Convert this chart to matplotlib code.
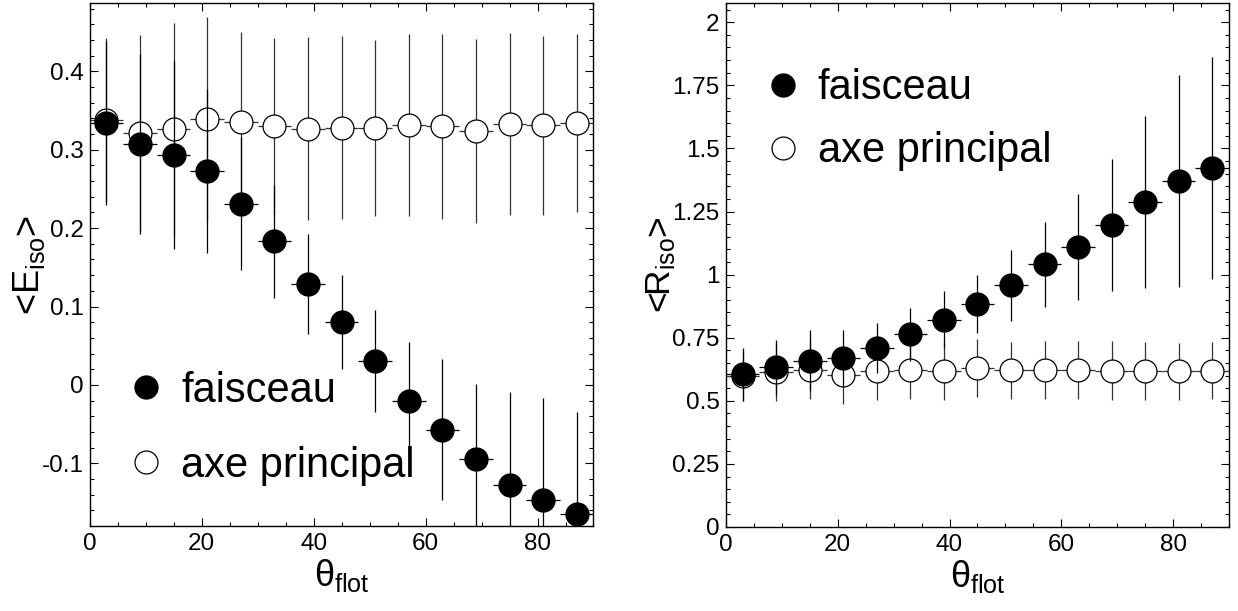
import numpy as np
import matplotlib
matplotlib.use('Agg')
import matplotlib.pyplot as plt
from matplotlib.lines import Line2D
from matplotlib.ticker import MultipleLocator

plt.rcParams['font.family'] = ['Liberation Sans', 'DejaVu Sans']
plt.rcParams['mathtext.fontset'] = 'custom'
plt.rcParams['mathtext.rm'] = 'Liberation Sans'
plt.rcParams['mathtext.it'] = 'Liberation Sans'

# theta_flot bins (centres, half width 3 deg)
theta = [3, 9, 15, 21, 27, 33, 39, 45, 51, 57, 63, 69, 75, 81, 87]
theta_err = 3

# <E_iso>
e_faisceau = [0.334, 0.307, 0.293, 0.273, 0.231, 0.183, 0.129, 0.080, 0.031,
              -0.020, -0.057, -0.094, -0.127, -0.147, -0.164]
e_faisceau_err = [0.105, 0.115, 0.12, 0.105, 0.085, 0.072, 0.064, 0.060, 0.065,
                  0.075, 0.090, 0.095, 0.118, 0.130, 0.130]
e_axe = [0.338, 0.321, 0.326, 0.339, 0.335, 0.330, 0.327, 0.328, 0.328,
         0.331, 0.330, 0.324, 0.333, 0.331, 0.334]
e_axe_err = [0.105, 0.125, 0.135, 0.13, 0.115, 0.112, 0.117, 0.117, 0.112,
             0.116, 0.118, 0.117, 0.116, 0.114, 0.114]

# <R_iso>
r_faisceau = [0.605, 0.632, 0.659, 0.670, 0.709, 0.763, 0.822, 0.883, 0.958,
              1.041, 1.110, 1.197, 1.288, 1.370, 1.424]
r_faisceau_err = [0.105, 0.11, 0.12, 0.11, 0.10, 0.105, 0.112, 0.114, 0.14,
                  0.168, 0.21, 0.26, 0.34, 0.42, 0.44]
r_axe = [0.598, 0.615, 0.624, 0.602, 0.618, 0.621, 0.618, 0.629, 0.621,
         0.621, 0.621, 0.620, 0.618, 0.617, 0.620]
r_axe_err = [0.10, 0.115, 0.115, 0.115, 0.115, 0.115, 0.115, 0.115, 0.113,
             0.115, 0.115, 0.115, 0.115, 0.113, 0.113]

fig = plt.figure(figsize=(12.38, 6.11), dpi=100)
ax1 = fig.add_axes([0.0724, 0.139, 0.407, 0.856])
ax2 = fig.add_axes([0.5864, 0.1375, 0.4063, 0.8575])

ms = 16.5


def draw(ax, y_axe, err_axe, y_fais, err_fais):
    ax.errorbar(theta, y_axe, xerr=theta_err, yerr=err_axe, fmt='o', ms=ms,
                mfc='white', mec='black', mew=0.9, ecolor='#333333',
                elinewidth=0.9, capsize=0, zorder=2)
    ax.errorbar(theta, y_fais, xerr=theta_err, yerr=err_fais, fmt='o', ms=ms,
                mfc='black', mec='black', ecolor='black',
                elinewidth=0.9, capsize=0, zorder=3)
    ax.set_xlim(0, 90)
    ax.xaxis.set_major_locator(MultipleLocator(20))
    ax.xaxis.set_minor_locator(MultipleLocator(5))
    ax.tick_params(which='both', direction='in', top=True, right=True,
                   labelsize=17.5, width=0.8)
    ax.tick_params(which='major', length=6, pad=5)
    ax.tick_params(axis='y', which='major', pad=4.5)
    ax.tick_params(which='minor', length=3)
    for s in ax.spines.values():
        s.set_linewidth(1.0)
    ax.set_xlabel(r'$\theta_{\rm flot}$', fontsize=26)
    ax.xaxis.set_label_coords(0.5, -0.06)


def legend(ax, x, y, spacing):
    handles = [Line2D([], [], ls='none', marker='o', ms=ms, mfc='black', mec='black'),
               Line2D([], [], ls='none', marker='o', ms=ms, mfc='white', mec='black', mew=0.9)]
    ax.legend(handles, ['faisceau', 'axe principal'], loc='center left',
              bbox_to_anchor=(x, y), frameon=False, fontsize=30,
              handlelength=0.6, handletextpad=0.54, labelspacing=spacing,
              borderpad=0, borderaxespad=0)


draw(ax1, e_axe, e_axe_err, e_faisceau, e_faisceau_err)
ax1.set_ylim(-0.18, 0.487)
ax1.yaxis.set_major_locator(MultipleLocator(0.1))
ax1.yaxis.set_minor_locator(MultipleLocator(0.02))
ax1.yaxis.set_major_formatter(lambda v, p: '%g' % round(v, 3))
ax1.set_ylabel(r'<E$_{\rm iso}$>', fontsize=26)
ax1.yaxis.set_label_coords(-0.085, 0.5)
legend(ax1, 0.087, 0.187, 0.85)

draw(ax2, r_axe, r_axe_err, r_faisceau, r_faisceau_err)
ax2.set_ylim(0, 2.076)
ax2.yaxis.set_major_locator(MultipleLocator(0.25))
ax2.yaxis.set_minor_locator(MultipleLocator(0.05))
ax2.yaxis.set_major_formatter(lambda v, p: '%g' % round(v, 3))
ax2.set_ylabel(r'<R$_{\rm iso}$>', fontsize=25.5)
ax2.yaxis.set_label_coords(-0.095, 0.5)
legend(ax2, 0.088, 0.777, 0.55)

fig.savefig('out.png', dpi=100)
